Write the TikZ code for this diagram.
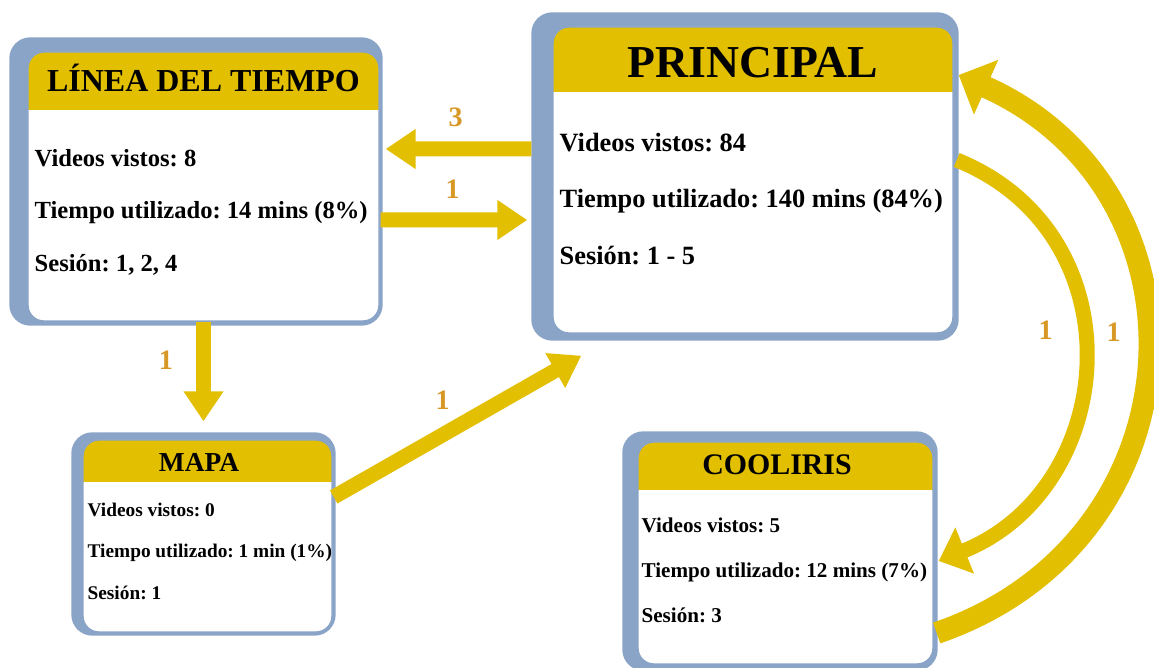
\documentclass[tikz,border=0pt]{standalone}
\usepackage{fontspec}
\setmainfont{Liberation Serif}
\usetikzlibrary{arrows.meta, positioning, backgrounds}

\definecolor{gold}{RGB}{226,191,0}
\definecolor{frameblue}{RGB}{138,164,200}
\definecolor{countorange}{RGB}{216,152,38}

\frenchspacing

\begin{document}
\begin{tikzpicture}[
        panel/.style={
            rectangle,
            rounded corners=9pt,
            draw=frameblue,
            line width=0.8pt,
            fill=white,
            inner sep=0pt,
            path picture={
                \fill[gold, sharp corners] (path picture bounding box.north west)
                    rectangle ([yshift=-#1]path picture bounding box.north east);
            }
        },
        panelframe/.style={
            fill=frameblue,
            rounded corners=12pt
        },
        heading/.style={
            anchor=base,
            inner sep=0pt
        },
        % base of a multi-line node is its last line
        stats/.style={
            anchor=base west,
            align=left,
            inner sep=0pt
        },
        flow/.style={
            -{Triangle[length=0.6cm, width=0.76cm]},
            line width=0.3cm,
            gold
        },
        countlabel/.style={
            font=\bfseries\fontsize{16}{16}\selectfont,
            text=countorange,
            inner sep=0pt
        }
    ]
    \useasboundingbox (0,0) rectangle (23.08,13.36);

    % Main page
    \node[panel=1.3cm, minimum width=8cm, minimum height=6.12cm] (principal) at (15.06, 9.76) {};
    \node[heading, font=\bfseries\fontsize{26}{26}\selectfont] (principal-title)
        at ([yshift=-1.02cm]principal.north) {PRINCIPAL};
    \node[stats, font=\bfseries\fontsize{15}{32.2}\selectfont] (principal-stats)
        at ([shift={(0.14,-4.76)}]principal.north west)
        {Videos vistos: 84\\Tiempo utilizado: 140 mins (84\%)\\Sesión: 1 - 5};

    % Timeline
    \node[panel=1.16cm, minimum width=7.02cm, minimum height=5.38cm] (linea) at (4.07, 9.63) {};
    \node[heading, font=\bfseries\fontsize{18.2}{18.2}\selectfont] (linea-title)
        at ([yshift=-0.8cm]linea.north) {LÍNEA DEL TIEMPO};
    \node[stats, font=\bfseries\fontsize{14}{29.9}\selectfont] (linea-stats)
        at ([shift={(0.14,-4.4)}]linea.north west)
        {Videos vistos: 8\\Tiempo utilizado: 14 mins (8\%)\\Sesión: 1, 2, 4};

    % Map
    \node[panel=0.84cm, minimum width=4.98cm, minimum height=3.84cm] (mapa) at (4.15, 2.64) {};
    \node[heading, font=\bfseries\fontsize{15.6}{15.6}\selectfont] (mapa-title)
        at ([shift={(-0.17,-0.64)}]mapa.north) {MAPA};
    \node[stats, font=\bfseries\fontsize{11}{23.6}\selectfont] (mapa-stats)
        at ([shift={(0.1,-3.2)}]mapa.north west)
        {Videos vistos: 0\\Tiempo utilizado: 1 min (1\%)\\Sesión: 1};

    % Cooliris
    \node[panel=0.96cm, minimum width=5.9cm, minimum height=4.44cm] (cooliris) at (15.71, 2.30) {};
    \node[heading, font=\bfseries\fontsize{17}{17}\selectfont] (cooliris-title)
        at ([shift={(-0.17,-0.66)}]cooliris.north) {COOLIRIS};
    \node[stats, font=\bfseries\fontsize{12}{25.6}\selectfont] (cooliris-stats)
        at ([shift={(0.08,-3.62)}]cooliris.north west)
        {Videos vistos: 5\\Tiempo utilizado: 12 mins (7\%)\\Sesión: 3};

    % Blue frames behind the panels
    \begin{scope}[on background layer]
        \fill[panelframe] ([shift={(-0.42,0.28)}]principal.north west) rectangle ([shift={(0.1,-0.14)}]principal.south east);
        \fill[panelframe] ([shift={(-0.36,0.28)}]linea.north west) rectangle ([shift={(0.06,-0.08)}]linea.south east);
        \fill[panelframe] ([shift={(-0.22,0.14)}]mapa.north west) rectangle ([shift={(0.06,-0.06)}]mapa.south east);
        \fill[panelframe] ([shift={(-0.3,0.2)}]cooliris.north west) rectangle ([shift={(0.08,-0.12)}]cooliris.south east);
    \end{scope}

    % Transitions
    \draw[flow] ([shift={(-0.42,0.62)}]principal.west) -- ([shift={(0.12,0.75)}]linea.east)
        node[countlabel, pos=0.52, above=0.29cm] (back-count) {3};
    \draw[flow] ([shift={(0.02,-0.67)}]linea.east) -- ([shift={(-0.5,-0.8)}]principal.west)
        node[countlabel, pos=0.49, above=0.27cm] (fwd-count) {1};
    \draw[flow] (linea.south) -- ([yshift=3.6mm]linea.south |- mapa.north)
        node[countlabel, pos=0.39, left=0.46cm] (down-count) {1};
    \draw[flow] ([shift={(0.02,0.78)}]mapa.east) -- ([shift={(0.58,-0.44)}]principal.south west)
        node[countlabel, pos=0.44, above=0.35cm] (diag-count) {1};
    \draw[flow, -{Triangle[length=0.56cm, width=0.96cm]}]
        ([shift={(0.06,0.4)}]principal.east) to[out=-22, in=22, looseness=1.25]
        node[countlabel, pos=0.5, left=0.48cm, yshift=0.6cm] (inner-count) {1}
        ([shift={(0.1,-0.16)}]cooliris.east);
    \draw[flow, line width=0.44cm, -{Triangle[length=0.6cm, width=1.16cm]}]
        ([shift={(0.06,-1.6)}]cooliris.east) to[out=19, in=-24, looseness=1.3]
        node[countlabel, pos=0.5, left=0.28cm, yshift=0.6cm] (outer-count) {1}
        ([shift={(0.1,2.1)}]principal.east);

\end{tikzpicture}
\end{document}
